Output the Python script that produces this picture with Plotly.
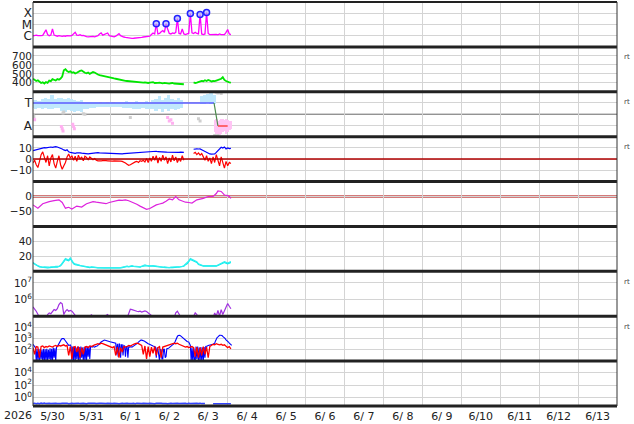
import plotly.graph_objects as go
from plotly.subplots import make_subplots
import pandas as pd

T0 = pd.Timestamp("2026-05-30 00:00")
X_RANGE = ["2026-05-30 00:00", "2026-06-14 00:00"]

# ---------------- data (hours since 2026-05-30 00:00) ----------------
# GOES X-ray flux, log10 W/m2, hourly
xray_log = [-6.02, -6.0, -5.95, -6.0, -6.03, -6.0, -5.98, -5.75, -5.48, -5.9,
            -6.0, -5.95, -5.4, -5.95, -6.02, -6.05, -6.0, -6.03, -6.06, -6.02,
            -6.05, -6.0, -6.04, -6.02, -5.98, -5.85, -5.7, -5.95, -5.98, -5.92,
            -6.0, -5.98, -6.05, -6.08, -6.1, -6.08, -6.1, -6.07, -6.1, -6.05,
            -6.0, -5.85, -5.76, -5.95, -5.9, -5.85, -5.76, -6.0, -6.05, -6.08,
            -6.1, -6.05, -5.9, -5.82, -6.0, -6.1, -6.12, -6.15, -6.18, -6.2,
            -6.22, -6.24, -6.23, -6.22, -6.24, -6.2, -6.18, -6.15, -6.12, -6.1,
            -6.12, -6.08, -6.05, -5.9, -5.76, -5.85, -4.94, -5.85, -5.8, -5.65,
            -5.55, -5.7, -4.94, -5.4, -5.8, -5.85, -5.75, -5.8, -5.7, -4.48,
            -5.8, -5.85, -5.4, -5.85, -5.9, -5.85, -5.8, -4.03, -5.75, -5.8,
            -5.7, -5.8, -5.85, -4.12, -5.85, -5.9, -5.85, -3.94, -5.8, -5.9,
            -5.88, -5.92, -5.9, -5.88, -5.92, -5.85, -5.9, -5.88, -5.9, -5.7,
            -5.45, -5.85, -5.9]
flare_hours = [76, 82, 89, 97, 103, 107]
flare_log = [-4.94, -4.94, -4.48, -4.03, -4.12, -3.94]

# Solar wind speed km/s, hourly
speed = [445, 430, 420, 428, 410, 398, 405, 392, 408, 400,
         425, 418, 440, 432, 425, 442, 435, 448, 470, 540,
         552, 530, 520, 528, 512, 518, 505, 512, 525, 532,
         538, 520, 512, 505, 515, 500, 508, 520, 515, 498,
         492, 485, 480, 478, 472, 468, 462, 458, 455, 452,
         448, 445, 440, 436, 432, 428, 425, 422, 420, 418,
         415, 412, 410, 412, 408, 410, 405, 408, 402, 405,
         400, 398, 402, 405, 408, 398, 395, 400, 402, 396,
         394, 398, 395, 392, 390, 395, 398, 392, 390, 393,
         388, 390, 386, 384, None, None, None, None, None, 405,
         398, 402, 410, 415, 422, 418, 428, 420, 432, 425,
         415, 420, 418, 425, 430, 438, 445, 462, 432, 420,
         410, 405, 402]

# IMF sector (phi): light-blue band (toward), pink (away), gray points
phi_hours = list(range(0, 113, 2))
phi_hi = [1.25, 1.3, 1.2, 1.4, 1.5, 1.35, 1.7, 1.4, 1.5, 1.45,
          1.4, 1.5, 1.35, 1.3, 1.2, 1.25, 1.15, 1.1, 1.15, 1.1,
          1.1, 1.05, 1.1, 1.05, 1.1, 1.05, 1.1, 1.15, 1.1, 1.2,
          1.1, 1.15, 1.2, 1.1, 1.15, 1.2, 1.1, 1.25, 1.4, 1.6,
          1.3, 1.5, 1.7, 1.4, 1.3, 1.45, 1.3, None, None, None,
          None, None, 1.6, 1.7, 1.85, 1.9, 1.7]
phi_lo = [0.55, 0.5, 0.6, 0.45, 0.55, 0.5, 0.45, 0.55, 0.6, 0.3,
          0.25, 0.4, 0.3, 0.2, 0.35, 0.25, 0.45, 0.5, 0.55, 0.6,
          0.65, 0.7, 0.65, 0.7, 0.7, 0.65, 0.7, 0.65, 0.6, 0.55,
          0.6, 0.5, 0.45, 0.5, 0.55, 0.45, 0.5, 0.45, 0.3, 0.5,
          0.2, 0.45, 0.35, 0.5, 0.4, 0.5, 0.55, None, None, None,
          None, None, 0.9, 0.95, 1.0, 0.95, 0.9]
away_hours = list(range(112, 123))
away_hi = [-0.5, -0.4, -0.6, -0.5, -0.4, -0.45, -0.5, -0.4, -0.5, -0.55, -0.6]
away_lo = [-1.6, -1.8, -1.9, -1.85, -1.7, -1.6, -1.5, -1.7, -1.6, -1.4, -1.3]
pink_hours = [0, 0.5, 1, 17.5, 18, 18.5, 24.5, 25, 25.5, 83, 84, 85, 86]
pink_vals = [-0.25, -0.4, -0.5, -1.1, -1.3, -1.5, -0.9, -1.1, -1.3, -0.3, -0.6, -0.5, -0.8]
gray_hours = [0, 0.5, 18.5, 19, 31, 32, 60, 102, 103, 112, 113, 114, 113, 114, 115, 116]
gray_vals = [-0.1, -0.2, 0.1, 0.2, 0.05, 0.0, -0.3, -0.4, -0.6, -1.9, -1.95, -1.9, 1.95, 1.9, 1.95, 1.85]
sector_toward_hours = [0, 111.6]
sector_toward_vals = [1, 1]
sector_change_hours = [111.6, 114]
sector_change_vals = [1, -1.05]
sector_away_hours = [114, 120]
sector_away_vals = [-1.05, -1.05]

# IMF Bt and Bz (nT), hourly
bt = [7.6, 8.0, 8.5, 8.8, 9.1, 9.5, 9.8, 10.2, 10.0, 10.4,
      10.6, 10.8, 10.5, 11.0, 11.1, 10.8, 10.4, 9.9, 9.0, 8.2,
      7.6, 8.3, 6.5, 6.0, 5.6, 5.4, 5.2, 5.5, 5.8, 5.6,
      5.3, 5.0, 4.8, 4.7, 4.6, 4.9, 5.1, 5.2, 5.6, 6.0,
      5.7, 5.5, 5.4, 5.3, 5.2, 5.2, 5.0, 4.9, 4.8, 4.7,
      4.6, 4.6, 4.7, 4.6, 4.8, 4.7, 4.9, 5.0, 5.1, 5.2,
      5.2, 5.4, 5.5, 5.6, 5.8, 6.0, 6.1, 6.3, 6.5, 6.7,
      6.8, 7.0, 7.0, 7.1, 6.9, 7.0, 7.0, 6.6, 6.4, 6.2,
      6.1, 6.0, 6.2, 6.1, 6.0, 6.3, 6.1, 6.0, 6.2, 6.1,
      6.0, 6.2, 6.1, 6.0, None, None, None, None, None, 8.8,
      9.1, 9.2, 9.0, 9.1, 8.4, 7.6, 6.8, 5.8, 5.0, 4.6,
      4.5, 4.8, 4.6, 6.0, 7.6, 9.5, 10.5, 9.8, 10.8, 9.1,
      10.0, 9.4, 9.6]
bz = [-3.5, -1, -5, -7.5, -2, 4, 6.5, 2, -3, 3,
      -6, 1, 4, -4, -8, -2, 3, -5, -9, -6,
      -3, 2, 4.5, 1, 3, -1, 2.5, -2, 3.5, 0,
      2, -1.5, 2.5, 1.5, -0.5, 2, 1, -0.5, 0.5, -1,
      -1.5, -1.2, -1.5, -1.3, -1.6, -1.4, -1.5, -1.7, -1.5, -1.8,
      -1.6, -1.5, -1.4, -1.6, -1.8, -2, -2.5, -3.5, -4.5, -5.5,
      -5, -4, -3, -2.5, -2, -3, -1.5, -2, -1, -2.5,
      0.5, -3, 1, -2, 2.5, -1, 3, -3.5, 1.5, -2,
      3.5, -1, 2, -4, 1, -2.5, 3.5, -1.5, 2, -3,
      0.5, -2, 3, -1, None, None, None, None, None, 5,
      6, 4, 5.5, 3.5, 5, 2, -1, 3, -2, 1,
      -4, 2, -3, 4, -1, -6, 2, -4, -8, -2,
      -6, -3, -4]

# Dst index (nT)
dst_hours = [0, 3, 6, 8, 10, 13, 16, 18, 20, 22, 24, 27, 30, 33, 35, 37, 39, 41, 43, 45,
             47, 49, 51, 53, 55, 57, 59, 62, 64, 66, 68, 70, 72, 74, 76, 78, 80, 82, 84, 86,
             88, 90, 92, 94, 96, 98, 101, 103, 105, 108, 111, 113, 114, 116, 118, 120, 121, 122]
dst_vals = [-28, -39, -24, -20, -17, -14, -11, -20, -39, -36, -42, -32, -35, -24, -20, -17, -19, -20, -23, -24,
            -20, -17, -15, -12, -13, -11, -14, -20, -26, -32, -38, -43, -40, -34, -28, -25, -22, -16, -8, -11,
            0, -11, -16, -19, -20, -22, -11, -9, -6, 0, 0, 10, 19, 17, 5, 3, 0, -6]

# Proton density (two spacecraft), hourly
dens_a = [11, 9.5, 8, 7, 6, 5.5, 5, 5.5, 5, 4.5,
          5, 5.5, 5, 5.5, 6, 5.5, 6, 7.5, 10, 13,
          16, 15, 14, 17, 13, 10, 9, 8.5, 8, 7.5,
          7, 6.5, 6, 6, 5.5, 5, 5.5, 5, 4.5, 5,
          4.5, 4.5, 4, 4.5, 4, 4, 3.5, 4, 4, 3.5,
          4, 4, 3.5, 4, 4.5, 5, 5.5, 6, 6.5, 6,
          7, 7, 6.5, 6, 6.5, 6, 5.5, 6.5, 7, 8,
          7.5, 7, 7.5, 7, 7, 6.5, 6, 6.5, 6, 5.5,
          5, 5.5, 5, 5, 4.5, 5, 5, 5.5, 5, 5.5,
          5.5, 6, 6, 7, 9, 10, 13, 16, 15, 14,
          14, 12, 9, 8, 7.5, 7, 7, 7, 6.5, 6.5,
          6, 6, 6.5, 7, 8, 9, 10, 11, 12, 11,
          10, 11, 12]
dens_b = [12, 10, 8.5, 7.5, 6.5, 6, 5.5, 6, 5.5, 5,
          5.5, 6, 5.5, 6, 6.5, 6, 6.5, 8, 11, 14,
          17, 16, 15, 18, 14, 11, 10, 9, 8.5, 8,
          7.5, 7, 6.5, 6.5, 6, 5.5, 6, 5.5, 5, 5.5,
          5, 5, 4.5, 5, 4.5, 4.5, 4, 4.5, 4.5, 4,
          4.5, 4.5, 4, 4.5, 5, 5.5, 6, 6.5, 7, 6.5,
          7.5, 7.5, 7, 6.5, 7, 6.5, 6, 7, 7.5, 8.5,
          8, 7.5, 8, 7.5, 7.5, 7, 6.5, 7, 6.5, 6,
          5.5, 6, 5.5, 5.5, 5, 5.5, 5.5, 6, 5.5, 6,
          6, 6.5, 6.5, 7.5, 9.5, 11, 14, 17, 16, 15,
          15, 13, 10, 9, 8, 7.5, 7.5, 7.5, 7, 7,
          6.5, 6.5, 7, 7.5, 8.5, 9.5, 11, 12, 13, 12,
          11, 12, 13]

# Integral proton flux, log10, hourly
proton_log = [5.56, 5.45, 5.3, 5.12, 4.9, 4.8, 4.8, 4.8, 4.85, 5.1,
              5.2, 5.15, 5.3, 5.4, 5.35, 5.45, 5.7, 5.82, 5.75, 5.1,
              5.3, 5.4, 5.3, 5.35, 5.3, 5.2, 5.05, 4.9, 4.85, 4.8,
              4.8, 4.8, 4.8, 4.8, 4.8, 4.85, 5.1, 4.9, 4.8, 4.8,
              4.8, 4.8, 4.8, 4.8, 4.85, 5.05, 5.1, 4.95, 4.8, 4.8,
              4.8, 4.8, 4.8, 4.8, 4.8, 4.8, 4.8, 4.8, 4.9, 5.2,
              5.42, 5.4, 5.35, 5.3, 5.3, 5.28, 5.3, 5.25, 5.3, 5.32,
              5.28, 5.2, 5.1, 5.05, 4.95, 4.8, 4.8, 4.8, 4.8, 4.8,
              4.8, 4.8, 4.8, 4.8, 4.8, 4.8, 4.8, 4.9, 5.2, 5.3,
              5.1, 4.9, 4.8, 4.8, 4.8, 4.8, 4.8, 4.8, 4.85, 5.0,
              5.2, 5.1, 4.9, 4.8, 4.8, 4.8, 4.8, 4.8, 4.8, 4.8,
              4.8, 4.9, 5.2, 5.0, 5.35, 5.0, 5.4, 5.1, 5.3, 5.55,
              5.76, 5.6, 5.45]

# Electron flux, log10 (blue: half-hourly, red: hourly)
elec_blue_log = [2.5, 2.4, 2.3, 2.2, 1.0, 2.1, 1.1, 2.05, 1.0, 2.1,
                 1.2, 2.0, 1.0, 2.1, 1.0, 2.05, 1.1, 2.1, 1.0, 2.0,
                 1.2, 2.15, 1.0, 2.1, 1.0, 2.2, 1.3, 2.15, 1.0, 2.25,
                 2.3, 2.45, 2.6, 2.7, 2.85, 2.95, 3.0, 3.02, 3.0, 2.9,
                 2.8, 2.6, 2.5, 2.45, 2.4, 2.42, 2.45, 2.3, 1.0, 2.3,
                 1.1, 2.25, 1.0, 2.2, 1.2, 2.3, 1.0, 2.25, 1.0, 2.3,
                 1.3, 2.2, 1.0, 2.25, 1.1, 2.3, 1.0, 2.3, 1.4, 2.3,
                 1.2, 2.35, 2.3, 2.25, 2.3, 2.28, 2.25, 2.3, 2.3, 2.35,
                 2.4, 2.5, 2.55, 2.6, 2.7, 2.75, 2.8, 2.85, 2.87, 2.86,
                 2.85, 2.83, 2.8, 2.78, 2.75, 2.72, 2.7, 2.72, 2.72, 2.68,
                 2.65, 2.62, 2.6, 1.6, 2.55, 1.4, 2.55, 2.5, 1.3, 2.45,
                 2.45, 1.5, 2.4, 2.35, 1.4, 2.3, 2.3, 1.3, 2.3, 2.25,
                 2.3, 2.28, 2.25, 2.3, 2.3, 2.35, 2.4, 2.45, 2.5, 2.6,
                 2.7, 2.78, 2.85, 2.87, 2.87, 2.86, 2.85, 2.8, 2.75, 2.68,
                 2.6, 2.58, 2.55, 2.52, 2.5, 2.45, 2.4, 2.38, 2.35, 2.32,
                 2.3, 2.25, 1.3, 2.2, 2.1, 1.1, 1.0, 2.05, 2.0, 1.2,
                 1.2, 2.05, 2.05, 1.3, 1.4, 2.1, 2.1, 2.15, 2.2, 2.28,
                 2.35, 2.4, 2.45, 2.5, 2.55, 2.7, 2.9, 3.05, 3.2, 3.28,
                 3.31, 3.3, 3.25, 3.18, 3.1, 3.02, 2.95, 2.9, 2.85, 2.8,
                 2.75, 2.72, 2.7, 2.55, 2.4, 1.0, 2.2, 1.0, 2.2, 1.1,
                 1.0, 2.3, 1.2, 2.3, 1.0, 2.2, 1.0, 2.25, 1.1, 2.2,
                 1.0, 2.25, 1.3, 2.3, 2.3, 2.35, 2.4, 2.41, 2.42, 2.44,
                 2.45, 2.48, 2.5, 2.55, 2.6, 2.8, 3.0, 3.1, 3.16, 3.25,
                 3.3, 3.31, 3.31, 3.28, 3.2, 3.15, 3.1, 3.0, 2.9, 2.85,
                 2.8, 2.7, 2.6, 2.5, 2.45, 2.4]
elec_red_log = [2.2, 1.6, 2.3, 2.25, 1.3, 2.3, 2.35, 2.2, 2.3, 2.25,
                2.35, 2.3, 2.25, 2.35, 2.4, 2.3, 2.4, 2.35, 2.4, 2.45,
                2.35, 2.4, 1.5, 2.3, 1.2, 2.25, 2.3, 1.8, 2.3, 1.3,
                2.2, 1.6, 2.25, 2.3, 2.2, 2.35, 2.3, 2.4, 2.45, 2.5,
                2.55, 2.5, 2.6, 2.55, 2.5, 2.45, 2.4, 2.35, 2.3, 2.2,
                2.3, 1.5, 2.25, 1.3, 2.2, 1.8, 2.3, 2.25, 2.3, 2.4,
                2.35, 2.45, 2.5, 2.55, 2.6, 2.55, 2.5, 2.4, 1.6, 2.35,
                1.2, 2.3, 1.4, 2.25, 1.7, 2.3, 1.5, 2.2, 2.3, 1.3,
                2.25, 2.3, 2.35, 2.4, 2.45, 2.5, 2.55, 2.6, 2.55, 2.6,
                2.5, 2.45, 2.4, 2.3, 2.25, 2.3, 2.2, 2.25, 2.3, 2.2,
                1.4, 2.25, 1.3, 2.2, 1.5, 2.3, 1.6, 2.25, 1.3, 2.3,
                2.4, 2.5, 2.45, 2.55, 2.5, 2.45, 2.5, 2.4, 2.45, 2.35,
                2.2, 2.3, 2.1]

# Bottom panel flux, log10, hourly
bottom_log = [-0.9, -0.85, -0.93, -0.87, -0.95, -0.85, -0.9, -0.83, -0.92, -0.87,
              -0.85, -0.91, -0.87, -0.93, -0.85, -0.89, -0.84, -0.91, -0.87, -0.85,
              -0.9, -0.85, -0.93, -0.87, -0.85, -0.91, -0.86, -0.9, -0.85, -0.92,
              -0.87, -0.85, -0.9, -0.95, -0.87, -0.85, -0.91, -0.88, -0.85, -0.9,
              -0.93, -0.87, -0.85, -0.9, -0.85, -0.92, -0.87, -0.9, -0.85, -0.91,
              -0.87, -0.85, -0.9, -0.93, -0.87, -0.85, -0.91, -0.85, -0.88, -0.92,
              -0.85, -0.9, -0.87, -0.93, -0.85, -0.89, -0.85, -0.91, -0.87, -0.9,
              -0.85, -0.92, -0.87, -0.9, -0.85, -0.93, -0.87, -0.85, -0.9, -0.87,
              -0.91, -0.85, -0.89, -0.93, -0.87, -0.85, -0.9, -0.87, -0.92, -0.85,
              -0.9, -0.87, -0.85, -0.91, -0.88, -0.93, -0.85, -0.9, -0.87, -0.85,
              -0.91, -0.87, -0.9, -0.85, -0.92, -0.87, -0.9, None, None, None,
              None, -0.93, -0.95, -0.93, -0.95, -0.97, -0.93, -0.95, -0.93, -0.95,
              -0.93, -0.95, -0.95]

# thresholds / reference levels
BZ_ZERO = 0
DST_ZERO = 0
SECTOR_MID = 0
PROTON_LEVELS_LOG = [6, 7]
ELECTRON_LEVEL_LOG = 4

# tick labels
xray_tickvals = [1e-4, 1e-5, 1e-6]
xray_ticktext = ["X", "M", "C"]
sector_tickvals = [1, -1]
sector_ticktext = ["T", "A"]


# ---------------- helpers ----------------
def t(hours):
    return [T0 + pd.Timedelta(hours=h) for h in hours]


def hourly(vals, step=1.0):
    return t([i * step for i in range(len(vals))])


def pw(vals):
    return [None if v is None else 10 ** v for v in vals]


def sup(e):
    return "10<sup>%d</sup>" % e


fig = make_subplots(rows=9, cols=1, shared_xaxes=True, vertical_spacing=0)

# panel 1: X-ray
fig.add_trace(go.Scatter(x=hourly(xray_log), y=pw(xray_log), mode="lines",
                         line=dict(color="#ff00ff", width=1.3)), row=1, col=1)
fig.add_trace(go.Scatter(x=t(flare_hours), y=pw(flare_log), mode="markers",
                         marker=dict(symbol="circle", size=6, color="rgba(170,170,255,0.6)",
                                     line=dict(color="#2222ff", width=1.5))), row=1, col=1)

# panel 2: speed
fig.add_trace(go.Scatter(x=hourly(speed), y=speed, mode="lines",
                         line=dict(color="#00e600", width=1.8)), row=2, col=1)

# panel 3: sector
BAR_W = 2 * 3600 * 1000
fig.add_trace(go.Bar(x=t(phi_hours),
                     y=[None if (a is None or b is None) else a - b for a, b in zip(phi_hi, phi_lo)],
                     base=phi_lo, width=BAR_W, marker=dict(color="#c0e8fc", line=dict(width=0))),
              row=3, col=1)
fig.add_trace(go.Bar(x=t(away_hours), y=[a - b for a, b in zip(away_hi, away_lo)],
                     base=away_lo, width=3600 * 1000, marker=dict(color="#ffc4f4", line=dict(width=0))),
              row=3, col=1)
fig.add_trace(go.Scatter(x=t(pink_hours), y=pink_vals, mode="markers",
                         marker=dict(symbol="square", size=3, color="#ffb0f0")), row=3, col=1)
fig.add_trace(go.Scatter(x=t(gray_hours), y=gray_vals, mode="markers",
                         marker=dict(symbol="square", size=3, color="#cfcfcf")), row=3, col=1)
fig.add_trace(go.Scatter(x=t(sector_toward_hours), y=sector_toward_vals, mode="lines",
                         line=dict(color="#5b5bff", width=1.5)), row=3, col=1)
fig.add_trace(go.Scatter(x=t(sector_change_hours), y=sector_change_vals, mode="lines",
                         line=dict(color="#4a8a4a", width=1.2)), row=3, col=1)
fig.add_trace(go.Scatter(x=t(sector_away_hours), y=sector_away_vals, mode="lines",
                         line=dict(color="#ff4444", width=1.5)), row=3, col=1)

# panel 4: Bt, Bz
fig.add_trace(go.Scatter(x=hourly(bt), y=bt, mode="lines",
                         line=dict(color="#0000ff", width=1.2)), row=4, col=1)
fig.add_trace(go.Scatter(x=hourly(bz), y=bz, mode="lines",
                         line=dict(color="#ff0000", width=1.2)), row=4, col=1)

# panel 5: Dst
fig.add_trace(go.Scatter(x=t(dst_hours), y=dst_vals, mode="lines",
                         line=dict(color="#dd22dd", width=1.2)), row=5, col=1)

# panel 6: density
fig.add_trace(go.Scatter(x=hourly(dens_a), y=dens_a, mode="lines",
                         line=dict(color="#00eeee", width=1.2)), row=6, col=1)
fig.add_trace(go.Scatter(x=hourly(dens_b), y=dens_b, mode="lines",
                         line=dict(color="#33f0f0", width=1.2)), row=6, col=1)

# panel 7: protons
fig.add_trace(go.Scatter(x=hourly(proton_log), y=pw(proton_log), mode="lines",
                         line=dict(color="#a030e0", width=1.2)), row=7, col=1)

# panel 8: electrons
fig.add_trace(go.Scatter(x=hourly(elec_blue_log, 0.5), y=pw(elec_blue_log), mode="lines",
                         line=dict(color="#0000ff", width=1.1)), row=8, col=1)
fig.add_trace(go.Scatter(x=hourly(elec_red_log), y=pw(elec_red_log), mode="lines",
                         line=dict(color="#ff0000", width=1.3)), row=8, col=1)

# panel 9
fig.add_trace(go.Scatter(x=hourly(bottom_log), y=pw(bottom_log), mode="lines",
                         line=dict(color="#3344ff", width=1.5)), row=9, col=1)

GRID = "#d4d4d4"
FONT = dict(family="DejaVu Sans", size=11, color="#222")
YFONT = dict(family="DejaVu Sans", size=10.5, color="#222")
LFONT = dict(family="DejaVu Sans", size=12, color="#222")

yconf = {
    1: dict(type="log", range=[-7, -3], tickvals=xray_tickvals, ticktext=xray_ticktext, tickfont=LFONT),
    2: dict(range=[300, 800], tickvals=[400, 500, 600, 700]),
    3: dict(range=[-2, 2], tickvals=sector_tickvals, ticktext=sector_ticktext, tickfont=LFONT),
    4: dict(range=[-20, 20], tickvals=[10, 0, -10]),
    5: dict(range=[-100, 50], tickvals=[0, -50]),
    6: dict(range=[0, 60], tickvals=[20, 40]),
    7: dict(type="log", range=[5, 7.7], tickvals=[1e6, 1e7], ticktext=[sup(6), sup(7)]),
    8: dict(type="log", range=[1, 5], tickvals=[1e2, 1e3, 1e4], ticktext=[sup(2), sup(3), sup(4)]),
    9: dict(type="log", range=[-1.3, 5.8], tickvals=[1, 1e2, 1e4], ticktext=[sup(0), sup(2), sup(4)]),
}
for r, c in yconf.items():
    c.setdefault("tickfont", YFONT)
    fig.update_yaxes(row=r, col=1, tickmode="array", showgrid=True, gridcolor=GRID, gridwidth=1,
                     zeroline=False, showline=False, ticks="", automargin=False, **c)

fig.update_xaxes(type="date", range=X_RANGE, tickmode="linear", tick0="2026-05-30",
                 dtick=86400000, showgrid=True, gridcolor=GRID, gridwidth=1, zeroline=False,
                 showline=False, ticks="", showticklabels=False, automargin=False)
fig.update_xaxes(row=9, col=1, showticklabels=True, ticklabelmode="period",
                 tickformat="%-m/%e", tickfont=FONT, ticklabelstandoff=2)

shapes = []
shapes.append(dict(type="line", xref="paper", x0=0, x1=1, yref="y3", y0=SECTOR_MID, y1=SECTOR_MID,
                   line=dict(color="#666", width=1), layer="below"))
shapes.append(dict(type="line", xref="paper", x0=0, x1=1, yref="y4", y0=BZ_ZERO, y1=BZ_ZERO,
                   line=dict(color="#b00000", width=1.5)))
shapes.append(dict(type="line", xref="paper", x0=0, x1=1, yref="y5", y0=DST_ZERO, y1=DST_ZERO,
                   line=dict(color="#d47a7a", width=3), layer="below"))
for lv in PROTON_LEVELS_LOG:
    shapes.append(dict(type="line", xref="paper", x0=0, x1=1, yref="y7", y0=lv, y1=lv,
                       line=dict(color="#dd1111", width=1.5)))
shapes.append(dict(type="line", xref="paper", x0=0, x1=1, yref="y8", y0=ELECTRON_LEVEL_LOG,
                   y1=ELECTRON_LEVEL_LOG, line=dict(color="#ee3333", width=1.5, dash="10px,6px")))

domains = [fig.layout["yaxis" if i == 1 else "yaxis%d" % i].domain for i in range(1, 10)]
for d in domains:
    shapes.append(dict(type="line", xref="paper", yref="paper", x0=0, x1=1, y0=d[0], y1=d[0],
                       line=dict(color="#222", width=3)))
shapes.append(dict(type="line", xref="paper", yref="paper", x0=0, x1=1, y0=1, y1=1,
                   line=dict(color="#222", width=2)))
for xx in (0, 1):
    shapes.append(dict(type="line", xref="paper", yref="paper", x0=xx, x1=xx, y0=0, y1=1,
                       line=dict(color="#333", width=1)))

PLOT_H = 404
annotations = [dict(text="2026", xref="paper", yref="paper", x=-0.0257, y=-9.5 / PLOT_H,
                    xanchor="center", yanchor="middle", showarrow=False, font=FONT)]
for r in (2, 3, 4, 7, 8):
    d = domains[r - 1]
    annotations.append(dict(text="rt", xref="paper", yref="paper", x=1.009, y=d[1] - 10.5 / PLOT_H,
                            xanchor="left", yanchor="middle", showarrow=False,
                            font=dict(family="DejaVu Sans", size=7, color="#444")))

fig.update_layout(width=634, height=424, margin=dict(l=33, r=17, t=2, b=18, autoexpand=False),
                  plot_bgcolor="white", paper_bgcolor="white", showlegend=False,
                  bargap=0, shapes=shapes, annotations=annotations, font=FONT)

fig.write_html("out.html", config={"displayModeBar": False},
               post_script="document.body.style.margin='0px';document.body.style.overflow='hidden';")
